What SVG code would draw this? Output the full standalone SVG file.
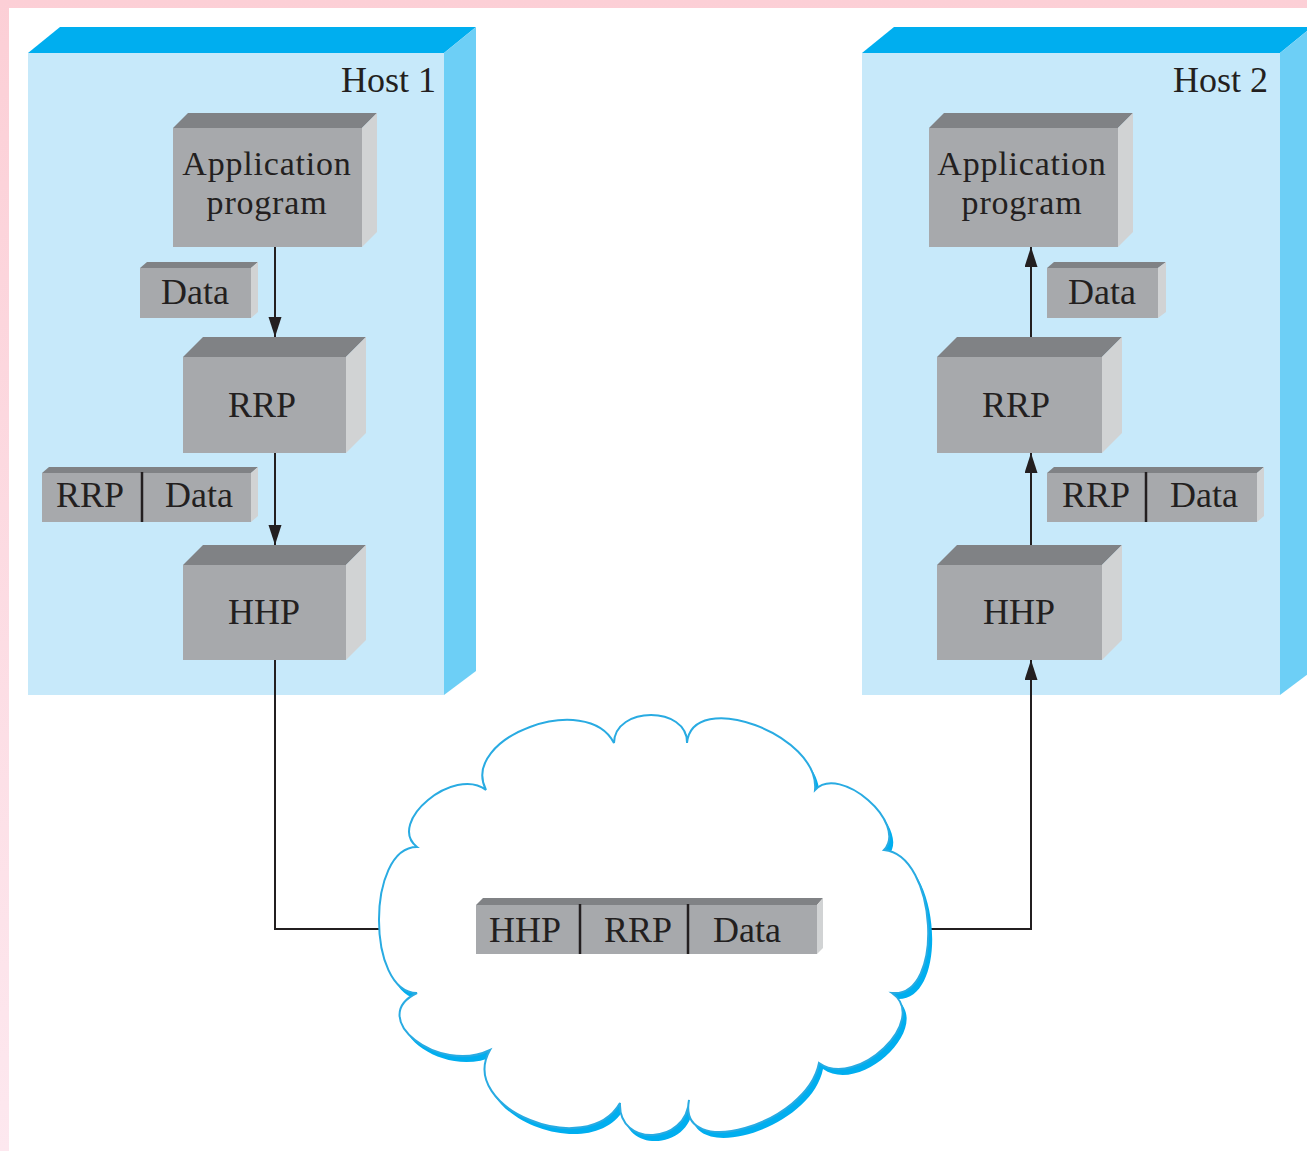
<svg xmlns="http://www.w3.org/2000/svg" width="1307" height="1151" viewBox="0 0 1307 1151">
  <defs>
    <style>
      .host-front { fill: #c7e9fa; }
      .host-top { fill: #00aeef; }
      .host-side { fill: #6dcff6; }
      .bf { fill: #a7a9ac; }
      .bt { fill: #808285; }
      .bs { fill: #d1d3d4; }
      .lbl { font-family: "Liberation Serif", "Times New Roman", serif; font-size: 36px; fill: #231f20; text-anchor: middle; }
      .two-line { font-size: 34px; letter-spacing: 0.8px; }
      .host-lbl { text-anchor: end; }
      .div { stroke: #231f20; stroke-width: 2.5; }
      .wire { fill: none; stroke: #231f20; stroke-width: 2; }
      .cloud { fill: #ffffff; stroke: #29abe2; stroke-width: 2; }
      .cloud-shadow { fill: #00aeef; }
    </style>
    <marker id="arrow" markerUnits="userSpaceOnUse" markerWidth="22" markerHeight="14" refX="20" refY="6.5" orient="auto">
      <path d="M0,0 L20,6.5 L0,13 z" fill="#231f20"/>
    </marker>
    <linearGradient id="edge" x1="0" y1="0" x2="0" y2="1">
      <stop offset="0" stop-color="#fccfd6"/>
      <stop offset="1" stop-color="#fde8ef"/>
    </linearGradient>
    <path id="cloud-shape" d="M417,993
      C366.3,993 366.3,847 417,847
      C385.7,822.3 454.7,765.3 486,790
      C459.3,737.3 587.3,690.3 614,743
      C614.7,705.7 687.7,705.7 687,743
      C692.3,687.7 820.3,734.7 815,790
      C839.7,763.3 908.7,823.3 884,850
      C937.3,854.7 945.3,997.7 892,993
      C930,1019.7 857,1089.7 819,1063
      C807,1125 677,1162 689,1100
      C687,1144.7 618,1147.7 620,1103
      C586.7,1161 456.7,1108 490,1050
      C438.7,1074.7 365.7,1017.7 417,993 Z"/>
  </defs>

  <!-- page background with pink edge -->
  <rect x="0" y="0" width="1307" height="1151" fill="url(#edge)"/>
  <rect x="9" y="8" width="1298" height="1143" fill="#ffffff"/>

  <!-- host enclosures -->
  <g id="host1">
    <rect class="host-front" x="28" y="53" width="416" height="642"/>
    <polygon class="host-top" points="28,53 60,27 476,27 444,53"/>
    <polygon class="host-side" points="444,53 476,27 476,671 444,695"/>
    <text class="lbl host-lbl" x="436" y="92">Host 1</text>
  </g>
  <g id="host2">
    <rect class="host-front" x="862" y="53" width="418" height="642"/>
    <polygon class="host-top" points="862,53 894,27 1312,27 1280,53"/>
    <polygon class="host-side" points="1280,53 1312,27 1312,671 1280,695"/>
    <text class="lbl host-lbl" x="1268" y="92">Host 2</text>
  </g>

  <!-- connectors -->
  <g id="connectors">
    <path class="wire" d="M275,247 V337" marker-end="url(#arrow)"/>
    <path class="wire" d="M275,453 V545" marker-end="url(#arrow)"/>
    <path class="wire" d="M275,660 V929 H390"/>
    <path class="wire" d="M915,929 H1031 V660" marker-end="url(#arrow)"/>
    <path class="wire" d="M1031,565 V453" marker-end="url(#arrow)"/>
    <path class="wire" d="M1031,357 V247" marker-end="url(#arrow)"/>
  </g>

  <!-- host 1 stack -->
  <g id="app1">
    <rect class="bf" x="173" y="128" width="189" height="119"/>
    <polygon class="bt" points="173,128 188,113 377,113 362,128"/>
    <polygon class="bs" points="362,128 377,113 377,232 362,247"/>
    <text class="lbl two-line" x="267" y="175">Application</text>
    <text class="lbl two-line" x="267" y="214">program</text>
  </g>
  <g id="data1">
    <rect class="bf" x="140" y="268" width="111" height="50"/>
    <polygon class="bt" points="140,268 147,262 258,262 251,268"/>
    <polygon class="bs" points="251,268 258,262 258,312 251,318"/>
    <text class="lbl" x="195" y="304">Data</text>
  </g>
  <g id="rrp1">
    <rect class="bf" x="183" y="357" width="163" height="96"/>
    <polygon class="bt" points="183,357 203,337 366,337 346,357"/>
    <polygon class="bs" points="346,357 366,337 366,433 346,453"/>
    <text class="lbl" x="262" y="417">RRP</text>
  </g>
  <g id="rrpdata1">
    <rect class="bf" x="42" y="473" width="209" height="49"/>
    <polygon class="bt" points="42,473 49,467 258,467 251,473"/>
    <polygon class="bs" points="251,473 258,467 258,516 251,522"/>
    <line class="div" x1="142" y1="472" x2="142" y2="522"/>
    <text class="lbl" x="90" y="507">RRP</text>
    <text class="lbl" x="199" y="507">Data</text>
  </g>
  <g id="hhp1">
    <rect class="bf" x="183" y="565" width="163" height="95"/>
    <polygon class="bt" points="183,565 203,545 366,545 346,565"/>
    <polygon class="bs" points="346,565 366,545 366,640 346,660"/>
    <text class="lbl" x="264" y="624">HHP</text>
  </g>

  <!-- host 2 stack -->
  <g id="app2">
    <rect class="bf" x="929" y="128" width="189" height="119"/>
    <polygon class="bt" points="929,128 944,113 1133,113 1118,128"/>
    <polygon class="bs" points="1118,128 1133,113 1133,232 1118,247"/>
    <text class="lbl two-line" x="1022" y="175">Application</text>
    <text class="lbl two-line" x="1022" y="214">program</text>
  </g>
  <g id="data2">
    <rect class="bf" x="1047" y="268" width="111" height="50"/>
    <polygon class="bt" points="1047,268 1054,262 1166,262 1158,268"/>
    <polygon class="bs" points="1158,268 1166,262 1166,312 1158,318"/>
    <text class="lbl" x="1102" y="304">Data</text>
  </g>
  <g id="rrp2">
    <rect class="bf" x="937" y="357" width="165" height="96"/>
    <polygon class="bt" points="937,357 957,337 1122,337 1102,357"/>
    <polygon class="bs" points="1102,357 1122,337 1122,433 1102,453"/>
    <text class="lbl" x="1016" y="417">RRP</text>
  </g>
  <g id="rrpdata2">
    <rect class="bf" x="1047" y="473" width="210" height="49"/>
    <polygon class="bt" points="1047,473 1054,467 1264,467 1257,473"/>
    <polygon class="bs" points="1257,473 1264,467 1264,516 1257,522"/>
    <line class="div" x1="1146" y1="472" x2="1146" y2="522"/>
    <text class="lbl" x="1096" y="507">RRP</text>
    <text class="lbl" x="1204" y="507">Data</text>
  </g>
  <g id="hhp2">
    <rect class="bf" x="937" y="565" width="165" height="95"/>
    <polygon class="bt" points="937,565 957,545 1122,545 1102,565"/>
    <polygon class="bs" points="1102,565 1122,545 1122,640 1102,660"/>
    <text class="lbl" x="1019" y="624">HHP</text>
  </g>

  <!-- network cloud carrying the full packet -->
  <g id="network">
    <use href="#cloud-shape" class="cloud-shadow" transform="translate(4,6)"/>
    <use href="#cloud-shape" class="cloud"/>
  </g>
  <g id="packet">
    <rect class="bf" x="476" y="905" width="341" height="49"/>
    <polygon class="bt" points="476,905 483,898 823,898 817,905"/>
    <polygon class="bs" points="817,905 823,898 823,948 817,954"/>
    <line class="div" x1="580" y1="904" x2="580" y2="954"/>
    <line class="div" x1="688" y1="904" x2="688" y2="954"/>
    <text class="lbl" x="525" y="942">HHP</text>
    <text class="lbl" x="638" y="942">RRP</text>
    <text class="lbl" x="747" y="942">Data</text>
  </g>
</svg>
